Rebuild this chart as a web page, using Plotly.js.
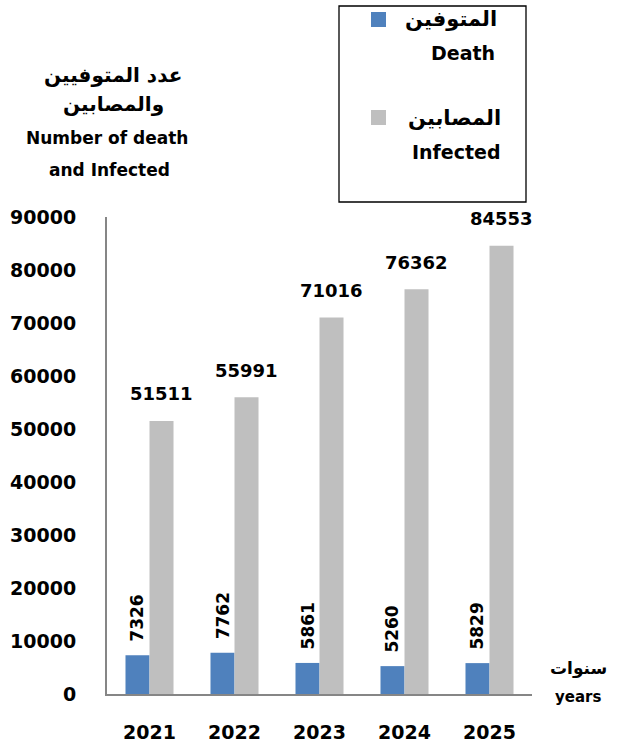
<!DOCTYPE html>
<html>
<head>
<meta charset="utf-8">
<script src="https://cdn.plot.ly/plotly-3.0.1.min.js"></script>
<style>
html,body{margin:0;padding:0;background:#fff;overflow:hidden;}
#chart{width:617px;height:742px;}
</style>
</head>
<body>
<div id="chart"></div>
<script>
// ---- data ----
const years = ['2021', '2022', '2023', '2024', '2025'];
const deaths = [7326, 7762, 5861, 5260, 5829];
const infected = [51511, 55991, 71016, 76362, 84553];
const deathName = ['المتوفين', 'Death'];
const infectedName = ['المصابين', 'Infected'];
const yTitle = ['عدد المتوفيين', 'والمصابين', 'Number of death', 'and Infected'];
const xTitle = ['سنوات', 'years'];
const yTicks = [0, 10000, 20000, 30000, 40000, 50000, 60000, 70000, 80000, 90000];

// ---- style ----
const W = 617, H = 742;
const M = {l: 107, r: 85, t: 217, b: 48};
const BLUE = '#4F81BD', GRAY = '#BFBFBF', AXIS = '#868686';
const FONT = 'DejaVu Sans, Noto Sans, sans-serif';
const pw = W - M.l - M.r, ph = H - M.t - M.b;
const px = x => (x - M.l) / pw;
const py = y => (H - M.b - y) / ph;
const bold = (s, c) => ({family: FONT, size: s, color: c || '#000', weight: 'bold'});

const traces = [
  {type: 'bar', x: years, y: deaths, name: deathName.join(' '), marker: {color: BLUE}, hoverinfo: 'x+y'},
  {type: 'bar', x: years, y: infected, name: infectedName.join(' '), marker: {color: GRAY}, hoverinfo: 'x+y'}
];

const ann = [];
years.forEach((yr, i) => {
  // category axes take the category index for annotation positions
  ann.push({x: i, y: deaths[i], xref: 'x', yref: 'y', text: String(deaths[i]), showarrow: false,
    textangle: -90, xanchor: 'center', yanchor: 'middle', xshift: -12, yshift: 37, font: bold(17)});
  ann.push({x: i, y: infected[i], xref: 'x', yref: 'y', text: String(infected[i]), showarrow: false,
    xanchor: 'center', yanchor: 'middle', xshift: 12, yshift: 27, font: bold(18)});
});
// y-axis title lines
const yTitleY = [75, 104, 138, 170];
const yTitleX = [113, 113, 107, 109];
const yTitleSize = [20, 20, 17, 17];
yTitle.forEach((t, i) => ann.push({xref: 'paper', yref: 'paper', x: px(yTitleX[i]), y: py(yTitleY[i]),
  text: t, showarrow: false, xanchor: 'center', yanchor: 'middle', font: bold(yTitleSize[i])}));
// x-axis title
ann.push({xref: 'paper', yref: 'paper', x: px(578), y: py(668), text: xTitle[0], showarrow: false,
  xanchor: 'center', yanchor: 'middle', font: bold(17)});
ann.push({xref: 'paper', yref: 'paper', x: px(578), y: py(697), text: xTitle[1], showarrow: false,
  xanchor: 'center', yanchor: 'middle', font: bold(15)});
// legend texts
ann.push({xref: 'paper', yref: 'paper', x: px(499), y: py(19), text: deathName[0], showarrow: false,
  xanchor: 'right', yanchor: 'middle', font: bold(21)});
ann.push({xref: 'paper', yref: 'paper', x: px(497), y: py(53), text: deathName[1], showarrow: false,
  xanchor: 'right', yanchor: 'middle', font: bold(19)});
ann.push({xref: 'paper', yref: 'paper', x: px(503), y: py(118), text: infectedName[0], showarrow: false,
  xanchor: 'right', yanchor: 'middle', font: bold(21)});
ann.push({xref: 'paper', yref: 'paper', x: px(503), y: py(152), text: infectedName[1], showarrow: false,
  xanchor: 'right', yanchor: 'middle', font: bold(19)});

const shapes = [
  {type: 'rect', xref: 'paper', yref: 'paper', x0: px(339), x1: px(526), y0: py(6), y1: py(202),
    line: {color: '#000', width: 1.3}, fillcolor: 'rgba(0,0,0,0)'},
  {type: 'rect', xref: 'paper', yref: 'paper', x0: px(371), x1: px(386), y0: py(12), y1: py(27),
    line: {width: 0}, fillcolor: BLUE},
  {type: 'rect', xref: 'paper', yref: 'paper', x0: px(371), x1: px(386), y0: py(110), y1: py(125),
    line: {width: 0}, fillcolor: GRAY}
];

const layout = {
  width: W, height: H,
  margin: M,
  paper_bgcolor: '#fff', plot_bgcolor: '#fff',
  barmode: 'group', bargap: 0.435, bargroupgap: 0,
  showlegend: false,
  xaxis: {type: 'category', range: [-0.5, 4.5], showline: true, linecolor: AXIS, linewidth: 2, showgrid: false, zeroline: false,
    ticks: '', tickfont: bold(19), ticklabelstandoff: 20, fixedrange: true},
  yaxis: {range: [0, 90000], tickvals: yTicks, ticktext: yTicks.map(String), showline: true, linecolor: AXIS,
    linewidth: 2, showgrid: false, zeroline: false, ticks: '', tickfont: bold(19), ticklabelstandoff: 25, fixedrange: true},
  annotations: ann,
  shapes: shapes,
  font: {family: FONT}
};

Plotly.newPlot('chart', traces, layout, {displayModeBar: false, responsive: false, staticPlot: true});
</script>
</body>
</html>
